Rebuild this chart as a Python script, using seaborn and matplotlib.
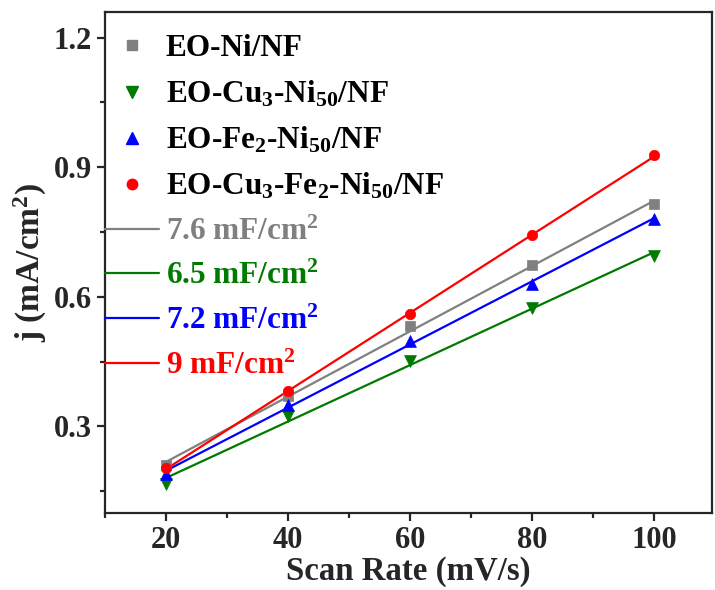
import numpy as np
import pandas as pd
import matplotlib
matplotlib.use("Agg")
import matplotlib.pyplot as plt
from matplotlib.lines import Line2D
import seaborn as sns

# Scan rates (mV/s) and current densities (mA/cm^2)
scan_rate = [20, 40, 60, 80, 100]
j_ni = [0.210, 0.370, 0.533, 0.674, 0.814]
j_cu_ni = [0.167, 0.323, 0.451, 0.574, 0.695]
j_fe_ni = [0.190, 0.350, 0.498, 0.630, 0.781]
j_cu_fe_ni = [0.204, 0.381, 0.560, 0.742, 0.928]

sample_names = ["EO-Ni/NF",
                "EO-Cu$_3$-Ni$_{50}$/NF",
                "EO-Fe$_2$-Ni$_{50}$/NF",
                "EO-Cu$_3$-Fe$_2$-Ni$_{50}$/NF"]
capacitance_labels = ["7.6 mF/cm$^2$", "6.5 mF/cm$^2$",
                      "7.2 mF/cm$^2$", "9 mF/cm$^2$"]
colors = ["#808080", "#007a00", "#0000ff", "#ff0000"]
markers = ["s", "v", "^", "o"]
marker_sizes = [6.8, 8.5, 8.5, 7.5]

x_ticks = [20, 40, 60, 80, 100]
y_ticks = [0.3, 0.6, 0.9, 1.2]

sns.set_theme(style="ticks")
plt.rcParams.update({
    "font.family": ["Liberation Serif", "DejaVu Serif"],
    "font.weight": "bold",
    "axes.labelweight": "bold",
    "mathtext.fontset": "custom",
    "mathtext.rm": "Liberation Serif:bold",
    "mathtext.it": "Liberation Serif:bold",
    "mathtext.bf": "Liberation Serif:bold",
    "mathtext.default": "rm",
    "axes.linewidth": 1.6,
})

frames = []
for name, vals in zip(sample_names, [j_ni, j_cu_ni, j_fe_ni, j_cu_fe_ni]):
    frames.append(pd.DataFrame({"rate": scan_rate, "j": vals, "sample": name}))
df = pd.concat(frames, ignore_index=True)

fig = plt.figure(figsize=(7.15, 5.90), dpi=100)
ax = fig.add_axes([0.147, 0.131, 0.849, 0.849])

for name, c, m, ms in zip(sample_names, colors, markers, marker_sizes):
    sub = df[df["sample"] == name]
    sns.regplot(data=sub, x="rate", y="j", ax=ax, ci=None, truncate=True,
                color=c, marker=m,
                scatter_kws={"s": ms ** 2, "edgecolor": c, "linewidths": 0.5,
                             "alpha": 1, "zorder": 3},
                line_kws={"lw": 1.6, "zorder": 2})

ax.set_xlim(10, 109.5)
ax.set_ylim(0.10, 1.26)
ax.set_xticks(x_ticks)
ax.set_yticks(y_ticks)
ax.set_xticks([10, 30, 50, 70, 90], minor=True)
ax.set_yticks([0.15, 0.45, 0.75, 1.05], minor=True)
ax.set_yticklabels([f"{v:.1f}" for v in y_ticks])
ax.tick_params(axis="both", which="major", direction="out", length=5.5,
               width=1.6, labelsize=22, pad=4)
ax.tick_params(axis="both", which="minor", direction="out", length=3.5,
               width=1.6)
for lab in ax.get_xticklabels() + ax.get_yticklabels():
    lab.set_fontweight("bold")
for sp in ax.spines.values():
    sp.set_visible(True)
    sp.set_linewidth(1.6)

ax.set_xlabel("Scan Rate (mV/s)", fontsize=23.7, fontweight="bold", labelpad=1)
ax.set_ylabel("j (mA/cm$^2$)", fontsize=24, fontweight="bold", labelpad=3)

handles = []
for c, m, ms in zip(colors, markers, marker_sizes):
    handles.append(Line2D([], [], ls="none", marker=m, color=c,
                          markersize=ms, markeredgecolor=c))
for c in colors:
    handles.append(Line2D([], [], color=c, lw=1.6))
labels = sample_names + capacitance_labels

leg = ax.legend(handles, labels, loc="upper left", frameon=False,
                fontsize=22.5, handlelength=1.72, handletextpad=0.22,
                labelspacing=0.50, borderaxespad=0.0, borderpad=0.0,
                bbox_to_anchor=(0.0, 0.955))
for txt, c in zip(leg.get_texts(), ["black"] * 4 + colors):
    txt.set_color(c)
    txt.set_fontweight("bold")

fig.savefig("out.png", dpi=100)
